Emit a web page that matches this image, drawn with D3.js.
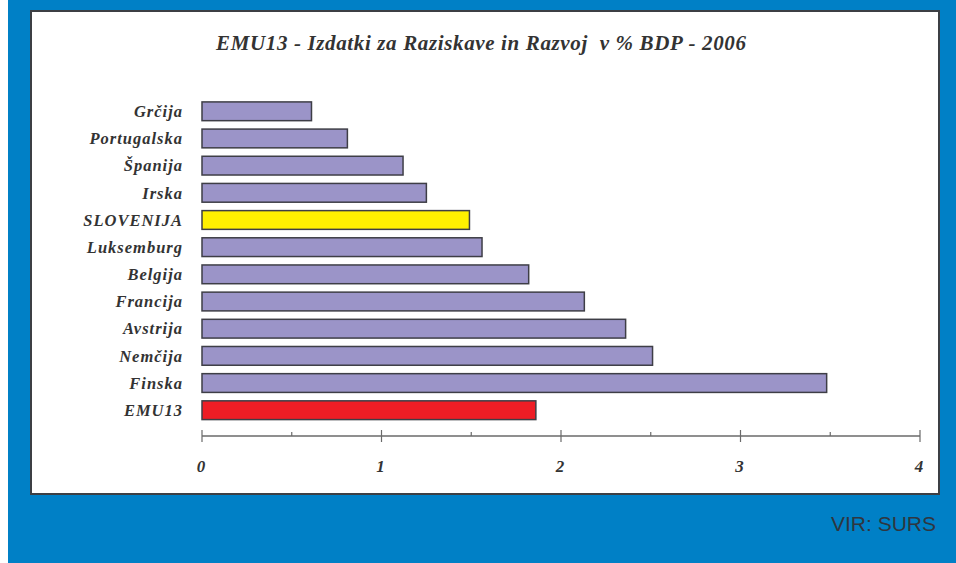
<!DOCTYPE html>
<html><head><meta charset="utf-8">
<script src="https://cdn.jsdelivr.net/npm/d3@7"></script>
<style>html,body{margin:0;padding:0;background:#fff;}svg{display:block;}text{white-space:pre;}</style>
</head><body>
<script>
const categories = ["Grčija","Portugalska","Španija","Irska","SLOVENIJA","Luksemburg","Belgija","Francija","Avstrija","Nemčija","Finska","EMU13"];
const values = [0.61,0.81,1.12,1.25,1.49,1.56,1.82,2.13,2.36,2.51,3.48,1.86];
const majorTicks = [0,1,2,3,4];
const minorTicks = [0.5,1.5,2.5,3.5];
const title = "EMU13 - Izdatki za Raziskave in Razvoj  v % BDP - 2006";
const source = "VIR: SURS";

const W = 956, H = 563;
const svg = d3.select("body").append("svg").attr("width", W).attr("height", H);
svg.append("rect").attr("x",8).attr("y",0).attr("width",W-8).attr("height",H).attr("fill","#0080C6");
svg.append("rect").attr("x",31).attr("y",11).attr("width",908).attr("height",483)
  .attr("fill","#fff").attr("stroke","#3c3f44").attr("stroke-width",2);

const serif = "'Liberation Serif','Times New Roman',serif";
svg.append("text").attr("x",216).attr("y",50)
  .attr("font-family",serif).attr("font-weight","bold").attr("font-style","italic")
  .attr("font-size",21).attr("textLength",530).attr("lengthAdjust","spacing")
  .attr("fill","#333").text(title);

const x = d3.scaleLinear().domain([0,4]).range([202,920]);
const y = d3.scaleBand().domain(categories).range([97.7,423.8]).paddingInner(0.31).paddingOuter(0.155);

const colorOf = c => c === "SLOVENIJA" ? "#FFF000" : (c === "EMU13" ? "#EE1D25" : "#9B94C8");

svg.append("g").selectAll("rect").data(categories).join("rect")
  .attr("x", x(0)).attr("y", d => y(d))
  .attr("width", (d,i) => x(values[i]) - x(0)).attr("height", y.bandwidth())
  .attr("fill", colorOf).attr("stroke","#3e3e46").attr("stroke-width",1.5);

svg.append("g").selectAll("text").data(categories).join("text")
  .attr("x",183).attr("y", d => y(d) + y.bandwidth()/2).attr("dy","0.35em")
  .attr("text-anchor","end").attr("font-family",serif).attr("font-weight","bold")
  .attr("font-style","italic").attr("font-size",16.5).attr("letter-spacing",1.0)
  .attr("fill","#333").text(d => d);

// axis
const axY = 436;
const ax = svg.append("g");
ax.append("line").attr("x1",x(0)).attr("x2",x(4)).attr("y1",axY).attr("y2",axY).attr("stroke","#6a6a6a").attr("stroke-width",1.5);
ax.selectAll(".maj").data(majorTicks).join("line").attr("class","maj")
  .attr("x1",d=>x(d)).attr("x2",d=>x(d)).attr("y1",axY-6).attr("y2",axY+6).attr("stroke","#6a6a6a").attr("stroke-width",1.2);
ax.selectAll(".min").data(minorTicks).join("line").attr("class","min")
  .attr("x1",d=>x(d)).attr("x2",d=>x(d)).attr("y1",axY-4).attr("y2",axY).attr("stroke","#6a6a6a").attr("stroke-width",1.2);
ax.selectAll("text").data(majorTicks).join("text")
  .attr("x",d=>x(d)-1).attr("y",472).attr("text-anchor","middle")
  .attr("font-family",serif).attr("font-weight","bold").attr("font-style","italic")
  .attr("font-size",17).attr("fill","#333").text(d=>d);

svg.append("text").attr("x",936).attr("y",531).attr("text-anchor","end")
  .attr("font-family","'Liberation Sans',Arial,sans-serif").attr("font-size",21)
  .attr("fill","#2f3640").text(source);
</script>
</body></html>
